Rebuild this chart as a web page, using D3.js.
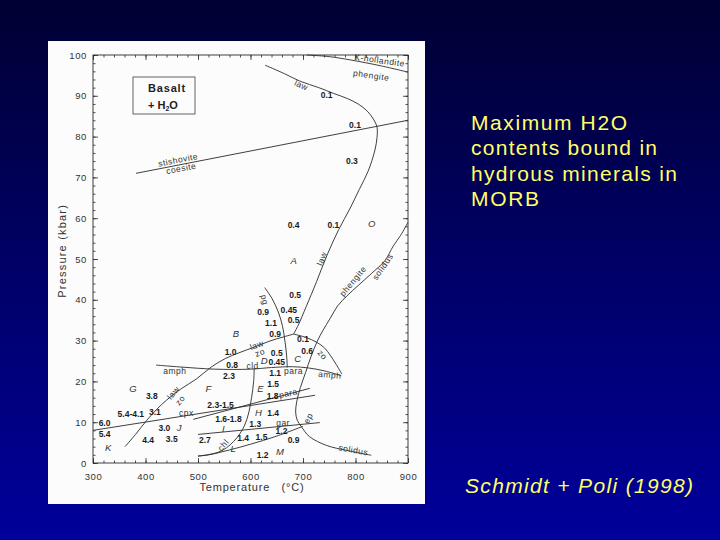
<!DOCTYPE html>
<html>
<head>
<meta charset="utf-8">
<script src="https://cdn.jsdelivr.net/npm/d3@7"></script>
<style>
  html, body { margin: 0; padding: 0; background: #000066; }
  svg { display: block; font-family: "Liberation Sans", Arial, sans-serif; }
</style>
</head>
<body>
<svg id="slide" width="720" height="540"></svg>
<script>
// ---- chart values (temperature in °C, pressure in kbar) ----
const tempTicks = [300, 400, 500, 600, 700, 800, 900];
const pressureTicks = [0, 10, 20, 30, 40, 50, 60, 70, 80, 90, 100];

// reaction boundaries
const kHollandite = [[707, 100], [750, 99.6], [790, 98.8], [850, 97.3], [900, 95.8]];
const lawUpper = [[628, 97.5], [665, 95.4], [694, 93.6], [730, 92.0], [758, 90.6], [785, 89.3],
  [805, 88.0], [822, 86.3], [834, 84.3], [841, 82.3], [841, 79.8], [837, 76.7], [824, 71.5],
  [807, 67], [790, 62.5], [768, 57.2], [746, 51], [726, 44.5], [706, 38.3], [691, 33.8], [682, 31.6]];
const stishovite = [[382, 71], [900, 84]];
const phengiteSolidus = [[900, 59], [886, 55.8], [872, 53.2], [856, 49.6], [830, 46.4], [806, 43.6],
  [784, 41], [766, 38.5], [752, 35.5], [738, 32.5], [727, 29.8], [715, 26], [705, 22.2], [695, 18.5],
  [688, 15], [686, 12.5], [689, 10.5], [697, 8.9], [712, 6.5], [745, 4.3], [783, 3.1], [830, 1.9]];
const lawZo = [[361, 4.0], [381, 7], [402, 10.4], [421, 13.1], [440, 15.4], [468, 18.2], [497, 20.6],
  [525, 23.5], [552, 25.6], [580, 27.1], [605, 28.3], [637, 29.9], [660, 30.8], [682, 31.6]];
const zoRight = [[682, 31.6], [705, 30.8], [726, 29.6], [741, 28.2], [752, 26.4], [763, 24.2], [774, 21.8]];
const pgLine = [[627, 43], [641, 40.3], [653, 37], [661, 33.5], [666, 29.5], [669, 26], [670, 23.4]];
const amphLine = [[420, 24.0], [470, 23.5], [532, 23.0], [600, 23.0], [640, 23.4], [680, 23.6],
  [710, 23.3], [740, 22.6], [773, 21.4]];
const cldChl = [[607, 23.1], [606, 20], [602, 16], [596, 12], [589, 9.3], [580, 7.2], [568, 5.3],
  [554, 3.7], [538, 2.6], [518, 2.0], [500, 1.7]];
const cpxLine = [[300, 8.0], [723, 16.6]];
const paraLine = [[491, 10.7], [713, 18.3]];
const garLine = [[500, 7.0], [732, 9.9]];
const lowerLine = [[500, 1.7], [520, 2.0], [560, 3.2], [600, 4.6], [650, 6.6], [700, 9.0]];

// maximum H2O contents (wt%) written in the fields
const waterContents = [
  [745, 90.2, "0.1"], [799, 82.8, "0.1"], [793, 73.9, "0.3"], [682, 58.3, "0.4"], [758, 58.3, "0.1"],
  [685, 41.2, "0.5"], [624, 36.9, "0.9"], [673, 37.5, "0.45"], [639, 34.4, "1.1"], [682, 35, "0.5"],
  [647, 31.6, "0.9"], [700, 30.5, "0.1"], [562, 27.2, "1.0"], [650, 27, "0.5"], [708, 27.5, "0.6"],
  [650, 24.8, "0.45"], [565, 24.0, "0.8"], [559, 21.3, "2.3"], [647, 22.1, "1.1"], [643, 19.4, "1.5"],
  [642, 16.4, "1.8"], [412, 16.3, "3.8"], [543, 14.2, "2.3-1.5"], [372, 12.0, "5.4-4.1"],
  [418, 12.6, "3.1"], [643, 12.2, "1.4"], [558, 10.8, "1.6-1.8"], [322, 9.8, "6.0"], [436, 8.6, "3.0"],
  [609, 9.5, "1.3"], [659, 7.8, "1.2"], [322, 7.0, "5.4"], [405, 5.6, "4.4"], [450, 5.8, "3.5"],
  [513, 5.6, "2.7"], [586, 6.0, "1.4"], [621, 6.4, "1.5"], [682, 5.6, "0.9"], [623, 2.0, "1.2"]
];

// field letters
const fieldLetters = [
  [376, 18.1, "G"], [520, 18.1, "F"], [619, 18.3, "E"], [615, 12.3, "H"], [464, 8.6, "J"],
  [548, 8.5, "I"], [329, 3.8, "K"], [567, 3.6, "L"], [656, 2.8, "M"], [626, 25, "D"],
  [690, 25.6, "C"], [572, 31.6, "B"], [682, 49.7, "A"], [831, 58.6, "O"]
];

// mineral names along the boundaries
const mineralNames = [
  [846, 98.7, "K-hollandite"], [830, 95.0, "phengite"], [697, 92.6, "law"], [462, 74.3, "stishovite"],
  [468, 72.2, "coesite"], [736, 50.1, "law"], [795, 44.6, "phengite"], [852, 48.1, "solidus"],
  [627, 40, "pg"], [612, 28.9, "law"], [618, 27.1, "zo"], [737, 26.5, "zo"], [604, 23.8, "cld"],
  [456, 22.5, "amph"], [682, 22.6, "para"], [751, 21.6, "amph"], [453, 17.2, "law"], [466, 15.4, "zo"],
  [672, 17.1, "para"], [478, 12.2, "cpx"], [662, 9.9, "gar"], [710, 11, "ep"], [548, 4.4, "chl"],
  [796, 3.2, "solidus"]
];
const mineralAngles = [8, 8, 25, -11, -11, -68, -50, -55, 75, -20, -20, 50, 0, 0, 0, 5, -50, -50, -12, 0, 0, -60, -50, 10];

const noteLines = ["Maximum H2O", "contents bound in", "hydrous minerals in", "MORB"];
const noteWidths = [156, 186, 206, 68];
const citation = "Schmidt + Poli (1998)";

// ---- drawing ----
const svg = d3.select("#slide");

const defs = svg.append("defs");
const grad = defs.append("linearGradient")
  .attr("id", "bg").attr("x1", 0).attr("y1", 0).attr("x2", 0).attr("y2", 1);
grad.append("stop").attr("offset", "0%").attr("stop-color", "#000033");
grad.append("stop").attr("offset", "100%").attr("stop-color", "#00009c");

svg.append("rect").attr("width", 720).attr("height", 540).attr("fill", "url(#bg)");

// white figure panel
svg.append("rect")
  .attr("x", 48).attr("y", 41).attr("width", 377).attr("height", 463)
  .attr("fill", "#fcfcfc");

const x = d3.scaleLinear().domain([300, 900]).range([93, 408]);
const y = d3.scaleLinear().domain([0, 100]).range([463, 55]);

const ink = "#2a2a2a";

// frame
svg.append("rect")
  .attr("x", x(300)).attr("y", y(100))
  .attr("width", x(900) - x(300)).attr("height", y(0) - y(100))
  .attr("fill", "none").attr("stroke", ink).attr("stroke-width", 0.9);

const minorT = d3.range(300, 901, 20);
const minorP = d3.range(0, 101, 2);

function styleAxis(g) {
  g.select(".domain").remove();
  g.selectAll("line").attr("stroke", ink).attr("stroke-width", 0.8);
  g.selectAll("text").attr("fill", "#333").attr("font-size", 9.5).attr("letter-spacing", 0.6);
}

// bottom axis with labels
svg.append("g").attr("transform", `translate(0,${y(0)})`)
  .call(d3.axisBottom(x).tickValues(tempTicks).tickSize(-5).tickPadding(10).tickFormat(d3.format("d")))
  .call(styleAxis);
svg.append("g").attr("transform", `translate(0,${y(0)})`)
  .call(d3.axisBottom(x).tickValues(minorT).tickSize(-2.5).tickFormat(""))
  .call(styleAxis);
// top axis
svg.append("g").attr("transform", `translate(0,${y(100)})`)
  .call(d3.axisTop(x).tickValues(tempTicks).tickSize(-5).tickFormat(""))
  .call(styleAxis);
svg.append("g").attr("transform", `translate(0,${y(100)})`)
  .call(d3.axisTop(x).tickValues(minorT).tickSize(-2.5).tickFormat(""))
  .call(styleAxis);
// left axis with labels
svg.append("g").attr("transform", `translate(${x(300)},0)`)
  .call(d3.axisLeft(y).tickValues(pressureTicks).tickSize(-5).tickPadding(6).tickFormat(d3.format("d")))
  .call(styleAxis);
svg.append("g").attr("transform", `translate(${x(300)},0)`)
  .call(d3.axisLeft(y).tickValues(minorP).tickSize(-2.5).tickFormat(""))
  .call(styleAxis);
// right axis
svg.append("g").attr("transform", `translate(${x(900)},0)`)
  .call(d3.axisRight(y).tickValues(pressureTicks).tickSize(-5).tickFormat(""))
  .call(styleAxis);
svg.append("g").attr("transform", `translate(${x(900)},0)`)
  .call(d3.axisRight(y).tickValues(minorP).tickSize(-2.5).tickFormat(""))
  .call(styleAxis);

// axis titles
svg.append("text")
  .attr("transform", `translate(66,${y(52)}) rotate(-90)`)
  .attr("text-anchor", "middle").attr("font-size", 11).attr("letter-spacing", 1.2)
  .attr("fill", "#333").text("Pressure (kbar)");
svg.append("text")
  .attr("x", 252).attr("y", 491)
  .attr("text-anchor", "middle").attr("font-size", 11).attr("letter-spacing", 0.8)
  .attr("fill", "#333").style("white-space", "pre").text("Temperature   (°C)");

// boundaries
const line = d3.line().x(d => x(d[0])).y(d => y(d[1])).curve(d3.curveCatmullRom.alpha(0.5));
const boundaries = [kHollandite, lawUpper, stishovite, phengiteSolidus, lawZo, zoRight, pgLine,
  amphLine, cldChl, cpxLine, paraLine, garLine, lowerLine];
svg.append("g").selectAll("path")
  .data(boundaries)
  .join("path")
  .attr("d", line)
  .attr("fill", "none").attr("stroke", ink).attr("stroke-width", 0.9);

// H2O contents
svg.append("g").selectAll("text")
  .data(waterContents)
  .join("text")
  .attr("x", d => x(d[0])).attr("y", d => y(d[1]))
  .attr("dy", "0.35em").attr("text-anchor", "middle")
  .attr("font-size", 8.5).attr("font-weight", "bold").attr("fill", "#1a1a1a")
  .text(d => d[2]);

// field letters
svg.append("g").selectAll("text")
  .data(fieldLetters)
  .join("text")
  .attr("x", d => x(d[0])).attr("y", d => y(d[1]))
  .attr("dy", "0.35em").attr("text-anchor", "middle")
  .attr("font-size", 9.5).attr("font-style", "italic").attr("fill", "#333")
  .text(d => d[2]);

// mineral names
svg.append("g").selectAll("text")
  .data(mineralNames)
  .join("text")
  .attr("transform", (d, i) => `translate(${x(d[0])},${y(d[1])}) rotate(${mineralAngles[i]})`)
  .attr("dy", "0.35em").attr("text-anchor", "middle")
  .attr("font-size", 8.5).attr("letter-spacing", 0.5).attr("fill", "#333")
  .text(d => d[2]);

// Basalt + H2O box
svg.append("rect")
  .attr("x", 133).attr("y", 77).attr("width", 62).attr("height", 37)
  .attr("fill", "none").attr("stroke", "#555").attr("stroke-width", 0.9);
svg.append("text")
  .attr("x", 167).attr("y", 92).attr("text-anchor", "middle")
  .attr("font-size", 11).attr("font-weight", "bold").attr("letter-spacing", 0.8).attr("fill", "#222")
  .text("Basalt");
const h2o = svg.append("text")
  .attr("x", 148).attr("y", 109)
  .attr("font-size", 11).attr("font-weight", "bold").attr("fill", "#222");
h2o.append("tspan").text("+ H");
h2o.append("tspan").attr("font-size", 7).attr("dy", 2).text("2");
h2o.append("tspan").attr("dy", -2).text("O");

// slide text
svg.append("g").selectAll("text")
  .data(noteLines)
  .join("text")
  .attr("x", 471).attr("y", (d, i) => 130 + i * 25.3)
  .attr("textLength", (d, i) => noteWidths[i]).attr("lengthAdjust", "spacing")
  .attr("font-size", 21).attr("fill", "#ffff66")
  .text(d => d);

svg.append("text")
  .attr("x", 465).attr("y", 493)
  .attr("textLength", 228).attr("lengthAdjust", "spacing")
  .attr("font-size", 21).attr("font-style", "italic").attr("fill", "#ffff66")
  .text(citation);
</script>
</body>
</html>
